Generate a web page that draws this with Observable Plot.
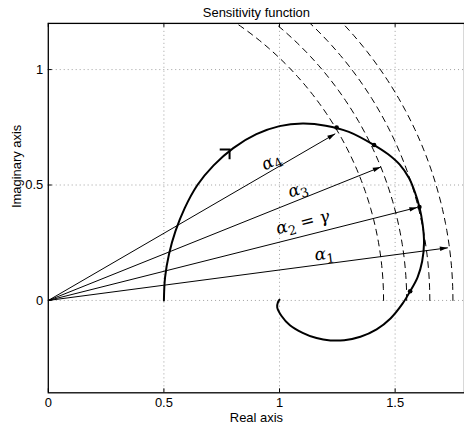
<!DOCTYPE html>
<html><head><meta charset="utf-8">
<script src="https://cdn.jsdelivr.net/npm/d3@7"></script>
<script src="https://cdn.jsdelivr.net/npm/@observablehq/plot@0.6"></script>
<style>html,body{margin:0;padding:0;overflow:hidden;background:#fff}</style>
</head><body><div id="chart"></div>
<script>
// Spiral (sensitivity function locus)
const curveX = [0.5,0.505,0.522,0.55,0.59,0.645,0.715,0.80,0.90,1.0,1.1,1.2,1.3,1.409,1.47,1.52,1.56,1.585,1.605,1.619,1.625,1.617,1.597,1.565,1.532,1.48,1.42,1.35,1.28,1.22,1.16,1.10,1.045,1.008,0.99,0.993,1.0];
const curveY = [0,0.1,0.2,0.3,0.4,0.5,0.585,0.66,0.72,0.755,0.766,0.757,0.73,0.673,0.633,0.588,0.53,0.47,0.405,0.33,0.25,0.17,0.10,0.04,-0.014,-0.078,-0.125,-0.157,-0.172,-0.173,-0.163,-0.14,-0.107,-0.066,-0.03,-0.008,0.003];
// direction marker on the curve
const markX = [0.784];
const markY = [0.654];
const markAngle = [45];
// dashed circle radii
const radii = [1.45, 1.55, 1.65, 1.75];
// vectors from origin
const arrowTipX = [1.728, 1.596, 1.438, 1.241];
const arrowTipY = [0.228, 0.403, 0.578, 0.722];
const arrowLabels = ["α1", "α2 = γ", "α3", "α4"];
const labelX = [1.194, 1.100, 1.079, 0.964];
const labelY = [0.201, 0.338, 0.481, 0.603];
const labelAngle = [7, 14, 17, 28];
// marked points on the curve
const dotX = [1.247, 1.409, 1.605, 1.565];
const dotY = [0.749, 0.673, 0.405, 0.040];
// axis ticks
const xTicks = [0, 0.5, 1, 1.5];
const yTicks = [0, 0.5, 1];

const curve = curveX.map((x, i) => ({x, y: curveY[i]}));
const circles = radii.flatMap(r => d3.range(0, 91).map(a => ({r, x: r * Math.cos(a * Math.PI / 180), y: r * Math.sin(a * Math.PI / 180)})));
const arrows = arrowTipX.map((x, i) => ({x, y: arrowTipY[i], ang: Math.atan2(arrowTipY[i], x) * 180 / Math.PI}));
const labels = arrowLabels.map((t, i) => ({t, x: labelX[i], y: labelY[i], a: labelAngle[i]}));
const dots = dotX.map((x, i) => ({x, y: dotY[i]}));
const marks = markX.map((x, i) => ({x, y: markY[i], a: markAngle[i]}));

const headSymbol = {draw(ctx) { ctx.moveTo(0, 0); ctx.lineTo(-8, -2.3); ctx.lineTo(-8, 2.3); ctx.closePath(); }};
const chevron = {draw(ctx) { ctx.moveTo(-7, -7); ctx.lineTo(0, 0); ctx.lineTo(-7, 7); }};

const W = 466, H = 435, ML = 48, MR = 0, MT = 23, MB = 41;
const chart = Plot.plot({
  width: W, height: H,
  marginLeft: ML, marginRight: MR, marginTop: MT, marginBottom: MB,
  style: {fontFamily: "Liberation Sans, Arial, sans-serif", fontSize: "13px", background: "#fff"},
  x: {domain: [0, 1.8]},
  y: {domain: [-0.4, 1.2]},
  marks: [
    Plot.ruleX(xTicks.slice(1), {stroke: "#a0a0a0", strokeDasharray: "1,3", strokeWidth: 1}),
    Plot.ruleY(yTicks, {stroke: "#a0a0a0", strokeDasharray: "1,3", strokeWidth: 1}),
    Plot.tickX(xTicks, {x: d => d, insetTop: H - MT - MB - 4, stroke: "#000"}),
    Plot.tickX(xTicks, {x: d => d, insetBottom: H - MT - MB - 4, stroke: "#000"}),
    Plot.tickY(yTicks, {y: d => d, insetRight: W - ML - MR - 4, stroke: "#000"}),
    Plot.line(circles, {x: "x", y: "y", z: "r", stroke: "#000", strokeWidth: 1, strokeDasharray: "6,5", clip: true}),
    Plot.link(arrows, {x1: 0, y1: 0, x2: "x", y2: "y", stroke: "#000", strokeWidth: 1}),
    Plot.dot(arrows, {x: "x", y: "y", symbol: headSymbol, rotate: d => -d.ang, fill: "#000", stroke: null}),
    Plot.line(curve, {x: "x", y: "y", curve: "catmull-rom", stroke: "#000", strokeWidth: 2}),
    Plot.dot(marks, {x: "x", y: "y", symbol: chevron, rotate: d => -d.a, fill: "none", stroke: "#000", strokeWidth: 2}),
    Plot.dot(dots, {x: "x", y: "y", r: 2.3, fill: "#000", stroke: null}),
    Plot.text(labels, {x: "x", y: "y", text: "t", rotate: d => -d.a, fontSize: 17, fontFamily: "DejaVu Serif, serif", fill: "#000"}),
    Plot.frame({stroke: "#000", strokeWidth: 1.3}),
    Plot.axisX(xTicks, {tickSize: 0, tickPadding: 5, fontSize: 13, label: null, tickFormat: d => String(d)}),
    Plot.axisY(yTicks, {tickSize: 0, tickPadding: 5, fontSize: 13, label: null, tickFormat: d => String(d)}),
    Plot.text(["Sensitivity function"], {frameAnchor: "top", dy: -15.5, fontSize: 13}),
    Plot.text(["Real axis"], {frameAnchor: "bottom", dy: 29, fontSize: 13}),
    Plot.text(["Imaginary axis"], {frameAnchor: "left", dx: -32, rotate: -90, fontSize: 13})
  ]
});
// typeset math labels: italic alpha with upright subscript digit
const NS = "http://www.w3.org/2000/svg";
chart.querySelectorAll("text").forEach(el => {
  const m = /^α(\d)(.*)$/.exec(el.textContent);
  if (!m) return;
  el.textContent = "";
  const a = document.createElementNS(NS, "tspan");
  a.setAttribute("font-style", "italic"); a.textContent = "α";
  const s = document.createElementNS(NS, "tspan");
  s.setAttribute("font-size", "13"); s.setAttribute("dy", "4"); s.textContent = m[1];
  el.append(a, s);
  if (m[2]) {
    const r = document.createElementNS(NS, "tspan");
    r.setAttribute("dy", "-4"); r.textContent = m[2].replace("γ", "");
    const g = document.createElementNS(NS, "tspan");
    g.setAttribute("font-style", "italic"); g.textContent = "γ";
    el.append(r, g);
  }
});
document.getElementById("chart").appendChild(chart);
</script></body></html>
